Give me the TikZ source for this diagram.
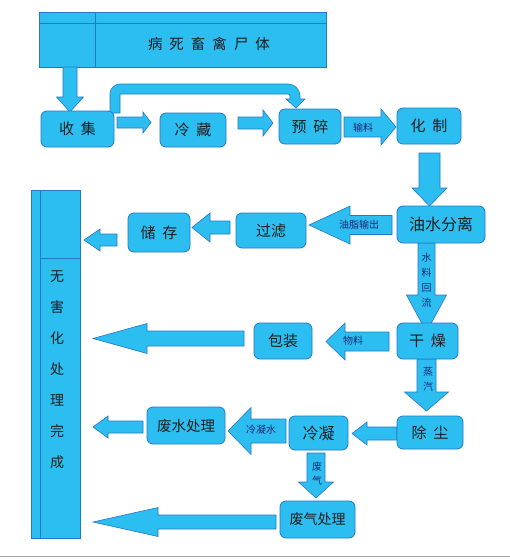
\documentclass[tikz,border=0pt]{standalone}
\usepackage{fontspec}
\setmainfont{Noto Sans CJK SC}
\definecolor{fillc}{RGB}{44,190,240}
\definecolor{bordc}{RGB}{36,120,200}
\definecolor{labc}{RGB}{30,40,120}
\definecolor{txtc}{RGB}{30,30,30}
\newcommand\cgap{\hspace{7pt}}
\newcommand\harr[6]{\filldraw[arr] (#1,{#4-#5}) -- (#2,{#4-#5}) -- (#2,{#4-#6}) -- (#3,#4) -- (#2,{#4+#6}) -- (#2,{#4+#5}) -- (#1,{#4+#5}) -- cycle;}
\newcommand\varr[6]{\filldraw[arr] ({#1-#5},#2) -- ({#1-#5},#3) -- ({#1-#6},#3) -- (#1,#4) -- ({#1+#6},#3) -- ({#1+#5},#3) -- ({#1+#5},#2) -- cycle;}
\tikzset{
  box/.style={draw=bordc, fill=fillc, rounded corners=6pt, line width=0.8pt, inner sep=0pt, text=txtc, font=\fontsize{15}{18}\selectfont},
  tbox/.style={draw=bordc, fill=fillc, line width=0.8pt, inner sep=0pt},
  arr/.style={draw=bordc, fill=fillc, line width=0.6pt, line join=miter},
  lab/.style={inner sep=0pt, text=labc, font=\fontsize{10}{15}\selectfont, align=center},
  big/.style={inner sep=0pt, text=txtc, font=\fontsize{14.5}{18}\selectfont},
}
\begin{document}
\begin{tikzpicture}[x=1pt,y=-1pt]
\useasboundingbox (0,0) rectangle (510,560);
\fill[white] (0,0) rectangle (510,560);
% top box
\node[tbox, minimum width=287pt, minimum height=55pt] (top) at (182.5,39.5) {};
\draw[bordc, line width=0.6pt] (39,23) -- (326,23);
\draw[bordc, line width=0.6pt] (95,12) -- (95,67);
\node[big] (toptext) at (209,44) {病\cgap 死\cgap 畜\cgap 禽\cgap 尸\cgap 体};
% left tall box
\node[tbox, minimum width=49pt, minimum height=348pt] (done) at (55.5,364) {};
\draw[bordc, line width=0.6pt] (40,190) -- (40,538);
\draw[bordc, line width=0.6pt] (40,258) -- (80,258);
\node[inner sep=0pt, text=txtc, font=\fontsize{14}{31}\selectfont, align=center] (donetext) at (57,370) {无\\害\\化\\处\\理\\完\\成};
% arrows
\varr{70}{67}{97}{112}{7}{13.5}
\filldraw[arr] (110,113) -- (110,94) arc (180:270:10) -- (288,84) arc (270:360:12) -- (300,99) -- (305,99) -- (296,108) -- (286,99) -- (290,99) -- (290,96) arc (0:-90:2) -- (120,94) -- (120,113) -- cycle;
\harr{117}{143}{151}{122.5}{5.5}{10.5}
\harr{238}{263}{273}{123}{6}{13}
\harr{344}{381}{396}{127}{10}{18}
\varr{429.5}{153}{188}{206}{10.5}{17.5}
\harr{392}{350}{309}{225}{9.5}{19}
\harr{230}{210}{192}{227.5}{6.5}{14.5}
\harr{117}{100}{84}{240}{6}{11}
\varr{426.5}{243}{295}{332}{8.5}{20}
\harr{389}{345}{326}{341.5}{9.5}{18.5}
\harr{244}{147}{93}{338.5}{7.5}{15}
\varr{426.5}{359}{392}{411}{9.5}{22}
\harr{397}{367}{352}{433.5}{6.5}{11.5}
\harr{286}{251}{228}{431}{12}{23.5}
\harr{143}{108}{93}{427}{6}{11}
\varr{316}{453}{482}{498}{9}{17.5}
\harr{276}{158}{93}{522}{7}{14.5}
% boxes
\node[box, minimum width=73pt, minimum height=36pt] (shouji) at (77.5,129) {收\cgap 集};
\node[box, minimum width=66pt, minimum height=34pt] (lengcang) at (193,130) {冷\cgap 藏};
\node[box, minimum width=62pt, minimum height=35pt] (yusui) at (310,126.5) {预\cgap 碎};
\node[box, minimum width=64pt, minimum height=36pt] (huazhi) at (429,126) {化\cgap 制};
\node[box, minimum width=88pt, minimum height=37pt, font=\fontsize{16}{18}\selectfont] (youshui) at (441,224.5) {油水分离};
\node[box, minimum width=70pt, minimum height=35pt] (guolv) at (271,230.5) {过滤};
\node[box, minimum width=62pt, minimum height=39pt] (chucun) at (159,232.5) {储\cgap 存};
\node[box, minimum width=61pt, minimum height=36pt] (ganzao) at (427.5,341) {干\cgap 燥};
\node[box, minimum width=58pt, minimum height=36pt] (baozhuang) at (283,341) {包装};
\node[box, minimum width=66pt, minimum height=33pt] (chuchen) at (430,432.5) {除\cgap 尘};
\node[box, minimum width=59pt, minimum height=34pt, font=\fontsize{16}{18}\selectfont] (lengning) at (318.5,433) {冷凝};
\node[box, minimum width=78pt, minimum height=37pt, font=\fontsize{14.5}{18}\selectfont] (feishui) at (186,425.5) {废水处理};
\node[box, minimum width=75pt, minimum height=37pt, font=\fontsize{14}{18}\selectfont] (feiqi) at (317.5,519.5) {废气处理};
% labels
\node[lab] (l1) at (363,128) {输料};
\node[lab] (l2) at (359,225) {油脂输出};
\node[lab] (l3) at (426.5,280) {水\\料\\回\\流};
\node[lab] (l4) at (353,341) {物料};
\node[lab] (l5) at (428,379.5) {蒸\\汽};
\node[lab] (l6) at (261,430) {冷凝水};
\node[lab, font=\fontsize{10}{14}\selectfont] (l7) at (317,474) {废\\气};
% bottom rule
\draw[gray!70, line width=1pt] (0,556) -- (510,556);
\end{tikzpicture}
\end{document}
